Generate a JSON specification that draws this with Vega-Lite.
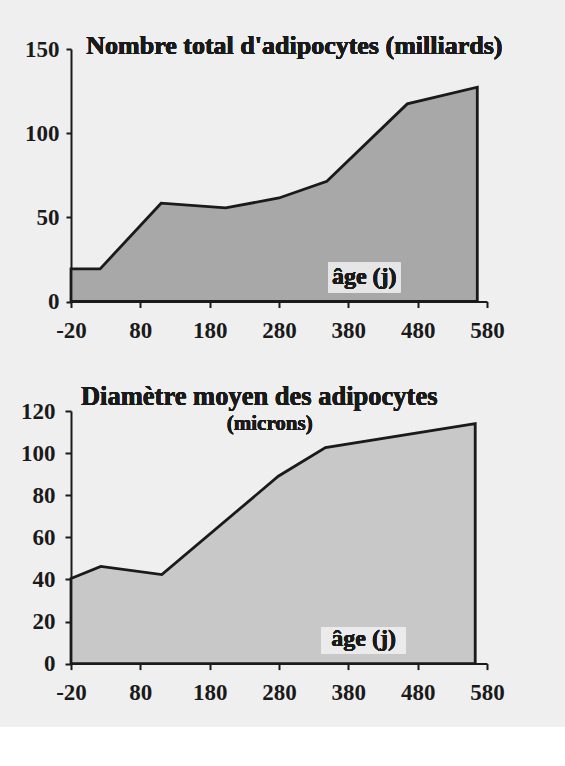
{
  "$schema": "https://vega.github.io/schema/vega-lite/v6.json",
  "background": "#efefef",
  "padding": {"left": 20, "top": 32, "right": 78, "bottom": 22},
  "config": {
    "view": {"stroke": null},
    "font": "Liberation Serif",
    "axis": {
      "domainColor": "#1a1a1a", "domainWidth": 2,
      "tickColor": "#1a1a1a", "tickWidth": 2, "tickSize": 6,
      "labelFont": "Liberation Serif", "labelFontWeight": "bold", "labelColor": "#1a1a1a",
      "labelFontSize": 23, "grid": false, "title": null, "labelFlush": false,
      "labelExpr": "toString(datum.value)"
    }
  },
  "spacing": 109,
  "bounds": "flush",
  "vconcat": [
    {
      "width": 416, "height": 252.5,
      "data": {"values": [
        {"age": -20, "n": 19.4}, {"age": 22, "n": 19.4}, {"age": 110, "n": 58.4},
        {"age": 203, "n": 55.6}, {"age": 280, "n": 61.5}, {"age": 349, "n": 71.4},
        {"age": 465, "n": 117.4}, {"age": 566, "n": 127.3}
      ]},
      "layer": [
        {
          "mark": {"type": "area", "fill": "#a8a8a8", "stroke": "#1a1a1a", "strokeWidth": 2.8, "strokeJoin": "miter"},
          "encoding": {
            "x": {"field": "age", "type": "quantitative", "scale": {"domain": [-20, 580], "nice": false},
                  "axis": {"values": [-20, 80, 180, 280, 380, 480, 580], "labelPadding": 12, "title": null}},
            "y": {"field": "n", "type": "quantitative", "scale": {"domain": [0, 150], "nice": false},
                  "axis": {"values": [0, 50, 100, 150], "labelPadding": 7, "tickSize": 5, "title": null}}
          }
        },
        {
          "mark": {"type": "rect", "fill": "#e6e6e6"},
          "encoding": {
            "x": {"datum": 351, "type": "quantitative"}, "x2": {"datum": 455},
            "y": {"datum": 23.2, "type": "quantitative"}, "y2": {"datum": 5.3}
          }
        },
        {
          "mark": {"type": "text", "text": "âge (j)", "fontSize": 24, "fontWeight": "bold", "color": "#1a1a1a", "align": "center", "baseline": "middle"},
          "encoding": {"x": {"datum": 403, "type": "quantitative"}, "y": {"datum": 14.5, "type": "quantitative"}}
        },
        {
          "mark": {"type": "text", "text": "Nombre total d'adipocytes (milliards)", "fontSize": 26, "fontWeight": "bold", "color": "#1a1a1a", "align": "left", "baseline": "alphabetic"},
          "encoding": {"x": {"datum": 2, "type": "quantitative"}, "y": {"datum": 147.2, "type": "quantitative"}}
        }
      ]
    },
    {
      "width": 416, "height": 252.6,
      "data": {"values": [
        {"age": -20, "d": 40.4}, {"age": 23, "d": 46.2}, {"age": 111, "d": 42.3},
        {"age": 279, "d": 89.0}, {"age": 347, "d": 102.6}, {"age": 563, "d": 114.0}
      ]},
      "layer": [
        {
          "mark": {"type": "area", "fill": "#c8c8c8", "stroke": "#1a1a1a", "strokeWidth": 2.8, "strokeJoin": "miter"},
          "encoding": {
            "x": {"field": "age", "type": "quantitative", "scale": {"domain": [-20, 580], "nice": false},
                  "axis": {"values": [-20, 80, 180, 280, 380, 480, 580], "labelPadding": 12, "title": null}},
            "y": {"field": "d", "type": "quantitative", "scale": {"domain": [0, 120], "nice": false},
                  "axis": {"values": [0, 20, 40, 60, 80, 100, 120], "labelPadding": 10, "title": null}}
          }
        },
        {
          "mark": {"type": "rect", "fill": "#ebebeb"},
          "encoding": {
            "x": {"datum": 340.6, "type": "quantitative"}, "x2": {"datum": 463},
            "y": {"datum": 17.4, "type": "quantitative"}, "y2": {"datum": 4.7}
          }
        },
        {
          "mark": {"type": "text", "text": "âge (j)", "fontSize": 24, "fontWeight": "bold", "color": "#1a1a1a", "align": "center", "baseline": "middle"},
          "encoding": {"x": {"datum": 402, "type": "quantitative"}, "y": {"datum": 11.5, "type": "quantitative"}}
        },
        {
          "mark": {"type": "text", "text": "Diamètre moyen des adipocytes", "fontSize": 26.5, "fontWeight": "bold", "color": "#1a1a1a", "align": "left", "baseline": "alphabetic"},
          "encoding": {"x": {"datum": -5.6, "type": "quantitative"}, "y": {"datum": 123.0, "type": "quantitative"}}
        },
        {
          "mark": {"type": "text", "text": "(microns)", "fontSize": 21, "fontWeight": "bold", "color": "#1a1a1a", "align": "center", "baseline": "alphabetic"},
          "encoding": {"x": {"datum": 266.6, "type": "quantitative"}, "y": {"datum": 110.8, "type": "quantitative"}}
        }
      ]
    }
  ]
}
